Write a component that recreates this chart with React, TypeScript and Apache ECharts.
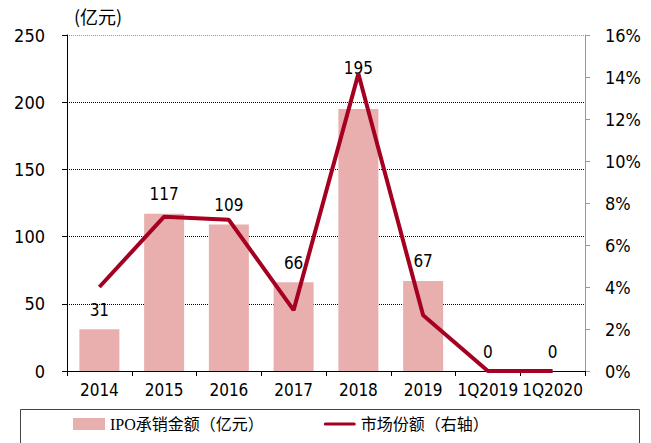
import React, { useEffect, useRef } from "react";
import * as echarts from "echarts";

const categories = ["2014", "2015", "2016", "2017", "2018", "2019", "1Q2019", "1Q2020"];
const ipoAmount = [31, 117, 109, 66, 195, 67, 0, 0];
const marketShare = [4.0, 7.35, 7.2, 2.9, 14.15, 2.65, 0, 0];
const leftTicks = { min: 0, max: 250, interval: 50 };
const rightTicks = { min: 0, max: 16, interval: 2 };

const narrow = "'DejaVu Sans Condensed', 'Liberation Sans Narrow', 'Arial Narrow', 'Liberation Sans', sans-serif";

export default function App() {
  const ref = useRef<HTMLDivElement>(null);
  useEffect(() => {
    if (!ref.current) return;
    const chart = echarts.init(ref.current, undefined, { renderer: "svg" });
    const barData = ipoAmount.map((v, i) =>
      i === 4 ? { value: v, label: { distance: 32 } } : v
    );
    chart.setOption({
      animation: false,
      backgroundColor: "#fff",
      grid: { left: 67, right: 66, top: 35, bottom: 72 },
      legend: {
        bottom: 6,
        left: 68,
        itemGap: 60,
        itemWidth: 32,
        itemHeight: 12,
        textStyle: { fontSize: 16, color: "#000", fontFamily: "'Liberation Serif', 'Noto Sans CJK SC', serif" },
        data: [
          { name: "IPO承销金额（亿元）", icon: "rect" },
          { name: "市场份额（右轴）", icon: "path://M2,0 L38,0 A2,2 0 0 1 38,4 L2,4 A2,2 0 0 1 2,0 Z" },
        ],
      },
      graphic: [
        {
          type: "rect",
          left: 18,
          top: 407,
          shape: { width: 619, height: 50 },
          style: { fill: "none", stroke: "#444", lineWidth: 1 },
          silent: true,
        },
        {
          type: "text",
          left: 74,
          top: 7,
          style: { text: "(亿元)", fontSize: 18, fill: "#000", fontFamily: "'Noto Sans CJK SC', sans-serif" },
        },
      ],
      xAxis: {
        type: "category",
        data: categories,
        axisLine: { lineStyle: { color: "#000", width: 1 } },
        axisTick: { show: true, length: 5, lineStyle: { color: "#000" } },
        axisLabel: { color: "#000", fontSize: 17, fontFamily: narrow, margin: 10, interval: 0 },
      },
      yAxis: [
        {
          type: "value",
          ...leftTicks,
          axisLine: { show: true, lineStyle: { color: "#000" } },
          axisTick: { show: true, length: 5, lineStyle: { color: "#000" } },
          axisLabel: { color: "#000", fontSize: 18, fontFamily: narrow, margin: 22 },
          splitLine: {
            show: true,
            lineStyle: { type: "dotted", color: ["#000", "#000", "#000", "#000", "#000", "#999"], width: 1 },
          },
        },
        {
          type: "value",
          ...rightTicks,
          position: "right",
          axisLine: { show: true, lineStyle: { color: "#999" } },
          axisTick: { show: true, length: 5, lineStyle: { color: "#999" } },
          axisLabel: { color: "#000", fontSize: 18, fontFamily: narrow, margin: 20, formatter: "{value}%" },
          splitLine: { show: false },
        },
      ],
      series: [
        {
          name: "IPO承销金额（亿元）",
          type: "bar",
          data: barData,
          barWidth: 40,
          itemStyle: { color: "#E8AFAE" },
          label: {
            show: true,
            position: "top",
            distance: 11,
            color: "#000",
            fontSize: 17,
            fontFamily: narrow,
          },
          z: 1,
        },
        {
          name: "市场份额（右轴）",
          type: "line",
          yAxisIndex: 1,
          data: marketShare,
          symbol: "none",
          lineStyle: { color: "#A50021", width: 4 },
          itemStyle: { color: "#A50021" },
          z: 3,
        },
      ],
    });
    return () => chart.dispose();
  }, []);
  return <div ref={ref} style={{ width: 651, height: 443, position: "absolute", left: 0, top: 0 }} />;
}
